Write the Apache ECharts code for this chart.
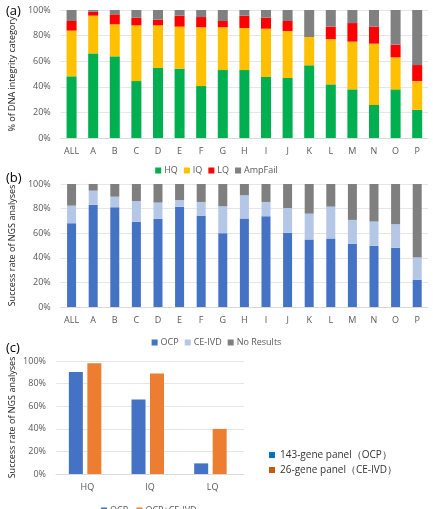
<!DOCTYPE html>
<html><head><meta charset="utf-8">
<script src="https://cdn.jsdelivr.net/npm/echarts@6/dist/echarts.min.js"></script>
<style>html,body{margin:0;padding:0;background:#fff}#c{width:433px;height:509px}</style>
</head><body><div id="c"></div>
<script>
const catsAB = ['ALL','A','B','C','D','E','F','G','H','I','J','K','L','M','N','O','P'];
const hq   = [48.2,66.1,63.8,44.5,54.7,54.2,40.6,53.1,53.1,47.7,46.9,56.8,41.9,38.0,25.8,38.0,22.1];
const iq   = [35.7,29.5,25.0,43.5,33.3,32.8,45.9,33.4,32.8,37.7,36.7,22.1,35.4,37.3,47.9,25.0,22.4];
const lq   = [7.5,3.1,7.8,6.0,4.4,8.6,8.0,4.9,9.7,8.6,7.8,0,9.7,14.5,13.3,9.9,12.5];
const amp  = [8.6,1.3,3.4,6.0,7.6,4.4,5.5,8.6,4.4,6.0,8.6,21.1,13.0,10.2,13.0,27.1,43.0];
const ocp  = [68.1,83.2,81.1,69.2,71.6,81.6,74.1,60.0,71.9,73.8,60.3,54.9,55.7,51.4,49.7,48.1,22.2];
const ceivd= [14.3,11.4,8.6,17.0,13.3,5.4,11.3,21.9,18.9,11.6,20.2,21.0,25.9,19.4,19.8,19.2,18.1];
const nores= [17.6,5.4,10.3,13.8,15.1,13.0,14.6,18.1,9.2,14.6,19.5,24.1,18.4,29.2,30.5,32.7,59.7];
const catsC = ['HQ','IQ','LQ'];
const cOcp  = [90.3,66.0,9.4];
const cBoth = [97.9,88.9,39.9];

const chart = echarts.init(document.getElementById('c'), null, {renderer:'canvas'});
const ff = 'Open Sans, Noto Sans, sans-serif';
const lblColor = '#595959';
function yAx(gi, name){
  return {gridIndex:gi, type:'value', min:0, max:100, interval:20,
    name:name, nameLocation:'middle', nameGap:39, nameTextStyle:{fontSize:9, color:'#222', fontFamily:ff},
    axisLabel:{formatter:v=>v+'%', fontSize:9, color:lblColor, fontFamily:ff, margin:10},
    axisLine:{show:false}, axisTick:{show:false},
    splitLine:{lineStyle:{color:'#e6e6e6', width:1}}};
}
function xAx(gi, data){
  return {gridIndex:gi, type:'category', data:data,
    axisLine:{lineStyle:{color:'#d9d9d9'}}, axisTick:{show:false},
    axisLabel:{fontSize:9, color:lblColor, fontFamily:ff, margin:9}};
}
function stackBar(name, data, color, gi, stack, bw){
  return {name:name, type:'bar', stack:stack, xAxisIndex:gi, yAxisIndex:gi, data:data,
    barWidth:bw, itemStyle:{color:color}, emphasis:{disabled:true}};
}
chart.setOption({
  animation:false,
  textStyle:{fontFamily:ff},
  title:[
    {text:'(a)', left:1, top:0, textStyle:{fontSize:13, fontWeight:'normal', color:'#000', fontFamily:ff}},
    {text:'(b)', left:1, top:167, textStyle:{fontSize:13, fontWeight:'normal', color:'#000', fontFamily:ff}},
    {text:'(c)', left:1, top:337, textStyle:{fontSize:13, fontWeight:'normal', color:'#000', fontFamily:ff}}
  ],
  grid:[
    {left:55, top:10, width:373, height:128},
    {left:55, top:184, width:373, height:123},
    {left:56, top:361, width:188, height:113}
  ],
  legend:[
    {data:['HQ','IQ','LQ','AmpFail'], left:'center', top:161, itemWidth:6, itemHeight:6, itemGap:6,
     icon:'rect', textStyle:{fontSize:9, color:lblColor, fontFamily:ff, padding:[0,0,0,-2]}},
    {data:['OCP','CE-IVD','No Results'], left:'center', top:333, itemWidth:6, itemHeight:6, itemGap:6,
     icon:'rect', textStyle:{fontSize:9, color:lblColor, fontFamily:ff, padding:[0,0,0,-2]}},
    {data:['OCP ','OCP+CE-IVD'], left:96, top:501, itemWidth:6, itemHeight:6, itemGap:6,
     icon:'rect', textStyle:{fontSize:9, color:lblColor, fontFamily:ff, padding:[0,0,0,-2]}},
    {data:['143-gene panel（OCP）','26-gene panel（CE-IVD）'], orient:'vertical', left:264, top:445,
     itemWidth:6, itemHeight:6, itemGap:5, icon:'rect', textStyle:{fontSize:10, color:'#333', fontFamily:ff}}
  ],
  xAxis:[xAx(0,catsAB), xAx(1,catsAB), xAx(2,catsC)],
  yAxis:[yAx(0,'% of DNA integrity category'), yAx(1,'Success rate of NGS analyses'), yAx(2,'Success rate of NGS analyses')],
  series:[
    stackBar('HQ', hq, '#00B050', 0, 'a', 10),
    stackBar('IQ', iq, '#FFC000', 0, 'a', 10),
    stackBar('LQ', lq, '#FF0000', 0, 'a', 10),
    stackBar('AmpFail', amp, '#808080', 0, 'a', 10),
    stackBar('OCP', ocp, '#4472C4', 1, 'b', 9),
    stackBar('CE-IVD', ceivd, '#B4C7E7', 1, 'b', 9),
    stackBar('No Results', nores, '#7F7F7F', 1, 'b', 9),
    {name:'OCP ', type:'bar', xAxisIndex:2, yAxisIndex:2, data:cOcp, barWidth:14, barGap:'32%',
     itemStyle:{color:'#4472C4'}},
    {name:'OCP+CE-IVD', type:'bar', xAxisIndex:2, yAxisIndex:2, data:cBoth, barWidth:14, barGap:'32%',
     itemStyle:{color:'#ED7D31'}},
    {name:'143-gene panel（OCP）', type:'bar', xAxisIndex:2, yAxisIndex:2, data:[], itemStyle:{color:'#0070C0'}},
    {name:'26-gene panel（CE-IVD）', type:'bar', xAxisIndex:2, yAxisIndex:2, data:[], itemStyle:{color:'#C55A11'}}
  ]
});
</script></body></html>
